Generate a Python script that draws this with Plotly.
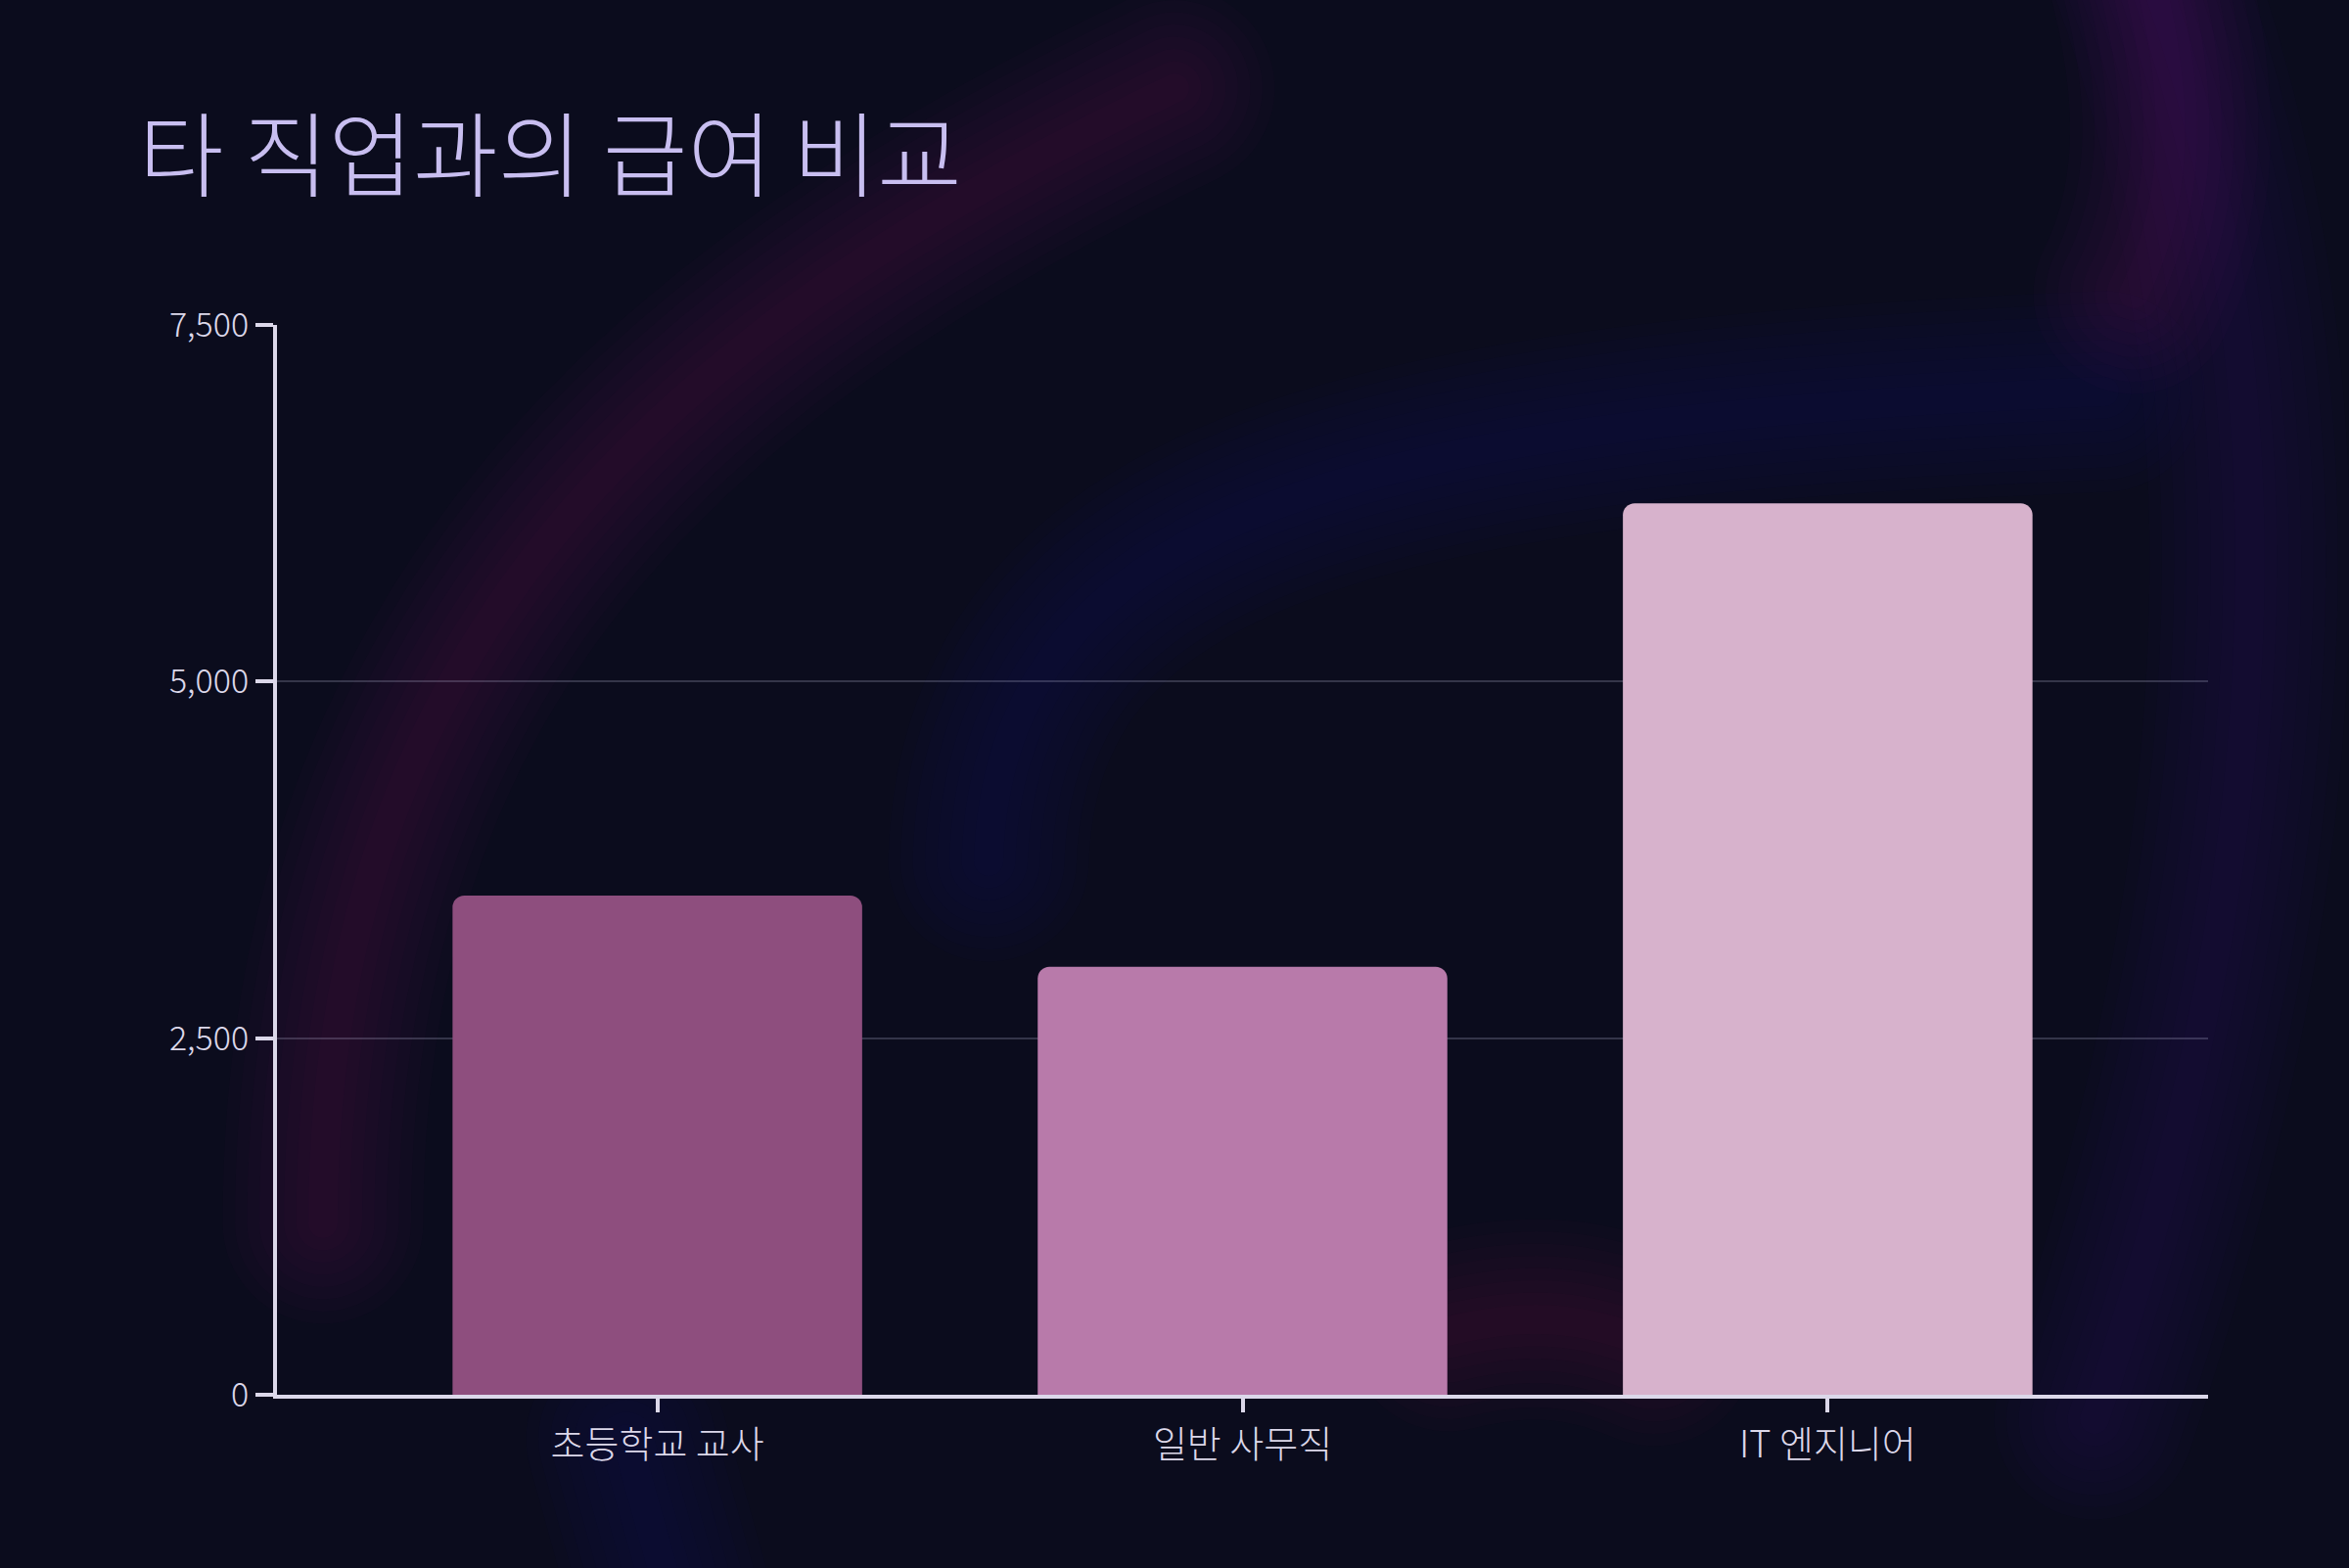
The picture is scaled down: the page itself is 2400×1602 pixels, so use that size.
import base64
import plotly.graph_objects as go

# 직종별 월 급여 (단위 추정)
jobs = ["초등학교 교사", "일반 사무직", "IT 엔지니어"]
salary = [3500, 3000, 6250]
bar_colors = ["#8e4e7e", "#b87aaa", "#d7b2cc"]
y_ticks = [0, 2500, 5000, 7500]

W, H = 2400, 1602
L, R, T, B = 283, 144, 332, 177

# soft glow arcs for the background: (svg path, rgb)
glows = [
    ("M 330 1250 C 330 640, 700 330, 1200 90", "130,35,120"),
    ("M 1010 880 C 1020 520, 1400 430, 2150 400", "50,50,160"),
    ("M 2180 -80 C 2330 300, 2360 800, 2140 1450", "90,45,155"),
    ("M 2180 -80 C 2230 80, 2230 200, 2180 300", "140,35,130"),
    ("M 1480 1360 C 1560 1340, 1620 1345, 1690 1375", "140,35,80"),
    ("M 640 1470 L 690 1650", "50,50,160"),
]
layers = []
for d, rgb in glows:
    for w in range(30, 230, 25):
        layers.append(f'<path d="{d}" stroke="rgb({rgb})" stroke-width="{w}" '
                      f'stroke-opacity="0.026"/>')
glow_svg = (f'<svg xmlns="http://www.w3.org/2000/svg" width="{W}" height="{H}">'
            '<g fill="none" stroke-linecap="round">' + "".join(layers) + "</g></svg>")
glow_src = "data:image/svg+xml;base64," + base64.b64encode(glow_svg.encode()).decode()

pw, ph = W - L - R, H - T - B

fig = go.Figure()

fig.add_trace(go.Bar(
    x=jobs, y=salary,
    marker=dict(color=bar_colors, cornerradius=12, line=dict(width=0)),
    width=0.7,
    hoverinfo="x+y",
))

fig.add_layout_image(
    source=glow_src, xref="paper", yref="paper",
    x=-L / pw, y=1 + T / ph, sizex=W / pw, sizey=H / ph,
    xanchor="left", yanchor="top", sizing="stretch", layer="below",
)

fig.update_layout(
    width=W, height=H,
    paper_bgcolor="#0b0c1d",
    plot_bgcolor="rgba(0,0,0,0)",
    margin=dict(l=L, r=R, t=T, b=B),
    showlegend=False,
    font=dict(family="Noto Sans CJK KR", color="#dcd8ea"),
    title=dict(text="타 직업과의 급여 비교", x=142 / W, xanchor="left",
               y=1 - 161 / H, yanchor="middle",
               font=dict(size=94, color="#c8bef0", family="Noto Sans CJK KR",
                         weight=300)),
)
fig.update_xaxes(
    range=[-0.65, 2.65],
    showline=True, linecolor="#dcd8ea", linewidth=4,
    ticks="outside", ticklen=14, tickwidth=4, tickcolor="#dcd8ea",
    tickfont=dict(size=38, color="#dcd8ea", weight=300),
    showgrid=False,
)
fig.update_yaxes(
    range=[0, 7500],
    tickvals=y_ticks, tickformat=",",
    showline=True, linecolor="#dcd8ea", linewidth=4,
    ticks="outside", ticklen=18, tickwidth=4, tickcolor="#dcd8ea",
    tickfont=dict(size=34, color="#dcd8ea", weight=300),
    gridcolor="rgba(200,200,230,0.22)", gridwidth=2,
    zeroline=False,
)

fig.write_html("out.html", config={"displayModeBar": False},
               post_script="document.body.style.margin='0';"
                           "document.body.style.background='#0b0c1d';")
